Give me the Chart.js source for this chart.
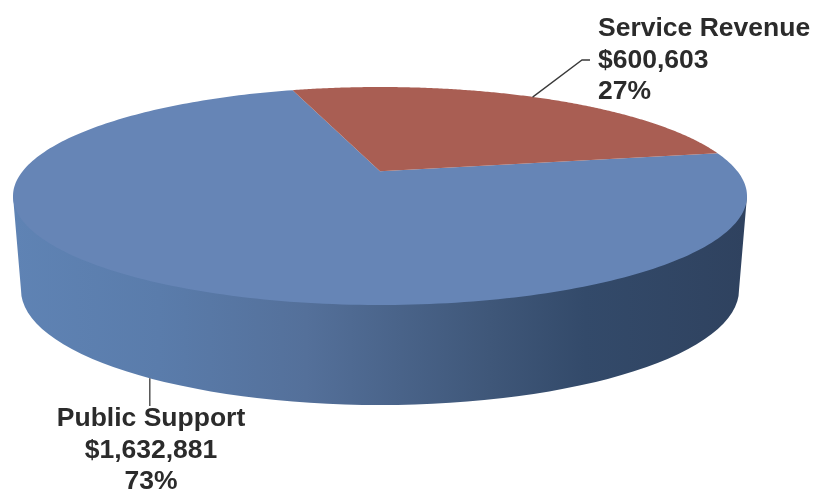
<!DOCTYPE html><html>
<head>
  <meta charset="UTF-8">
  <title>Revenue</title>
  <script src="https://cdn.jsdelivr.net/npm/chart.js"></script>
  <style>
    html, body { margin: 0; padding: 0; background: #fff; }
    canvas { display: block; filter: blur(0.4px); }
  </style>
</head>
<body>
  <canvas id="pie" width="816" height="489"></canvas>
  <script>
    const labels = ['Service Revenue', 'Public Support'];
    const amounts = [600603, 1632881];
    const colors = ['#a95e53', '#6685b6'];

    // tilted disc: the top face is an ellipse, the centre sits above its middle (perspective)
    const cx = 380, cy = 196, rx = 367, ry = 109;
    const persp = -0.227;
    // lower rim of the side wall
    const lowCy = 290, lowRx = 359, lowRy = 115;

    function project(a) {
      const x = Math.cos(a), y = Math.sin(a);
      const d = 1 + persp * y;
      const s = Math.sqrt(1 - persp * persp);
      return { x: cx + rx * x * s / d, y: cy + ry * (y + persp) / d };
    }

    function drawSide(ctx) {
      const g = ctx.createLinearGradient(13, 0, 746, 0);
      g.addColorStop(0, '#5f83b4');
      g.addColorStop(0.2, '#5a7cab');
      g.addColorStop(0.4, '#54709a');
      g.addColorStop(0.65, '#3f5779');
      g.addColorStop(0.78, '#334a6a');
      g.addColorStop(1, '#2f425f');
      // top edge is hidden under the face, so it can run straight across
      ctx.beginPath();
      ctx.moveTo(cx - rx, cy);
      ctx.lineTo(cx + rx, cy);
      ctx.lineTo(cx + lowRx, lowCy);
      ctx.ellipse(cx, lowCy, lowRx, lowRy, 0, 0, Math.PI, false);
      ctx.closePath();
      ctx.fillStyle = g;
      ctx.fill();
    }

    function drawWedge(ctx, start, end, color) {
      ctx.beginPath();
      ctx.moveTo(cx, cy + ry * persp);
      const steps = 240;
      for (let i = 0; i <= steps; i++) {
        const p = project(start + (end - start) * i / steps);
        ctx.lineTo(p.x, p.y);
      }
      ctx.closePath();
      ctx.fillStyle = color;
      ctx.fill();
    }

    function drawText(ctx, idx, x, y, align, pct) {
      ctx.font = 'bold 26.5px "Liberation Sans", Arial, sans-serif';
      ctx.fillStyle = '#2b2b2b';
      ctx.textAlign = align;
      ctx.textBaseline = 'alphabetic';
      ctx.fillText(labels[idx], x, y);
      ctx.fillText('$' + amounts[idx].toLocaleString('en-US'), x, y + 32);
      ctx.fillText(pct + '%', x, y + 63);
    }

    const pie3d = {
      id: 'pie3d',
      beforeDatasetsDraw(chart) {
        const ctx = chart.ctx;
        const arcs = chart.getDatasetMeta(0).data;
        const total = amounts.reduce((a, b) => a + b, 0);
        ctx.save();
        drawSide(ctx);
        // blue first so the red wedge sits on top of the seam
        for (let i = arcs.length - 1; i >= 0; i--) {
          const p = arcs[i].getProps(['startAngle', 'endAngle'], true);
          drawWedge(ctx, p.startAngle, p.endAngle, colors[i]);
        }

        // leader lines start from the middle of each slice
        ctx.strokeStyle = '#3a3a3a';
        ctx.lineWidth = 1.3;
        const a0 = arcs[0].getProps(['startAngle', 'endAngle'], true);
        const m0 = project((a0.startAngle + a0.endAngle) / 2);
        ctx.beginPath();
        ctx.moveTo(m0.x - 2, m0.y);
        ctx.lineTo(582, 60);
        ctx.lineTo(590, 60);
        ctx.stroke();

        const a1 = arcs[1].getProps(['startAngle', 'endAngle'], true);
        const m1 = project((a1.startAngle + a1.endAngle) / 2);
        const lx = m1.x - 1;
        const t = (lx - cx) / lowRx;
        ctx.beginPath();
        ctx.moveTo(lx, lowCy + lowRy * Math.sqrt(1 - t * t));
        ctx.lineTo(lx, 406);
        ctx.stroke();

        drawText(ctx, 0, 598, 36, 'left', Math.round(amounts[0] / total * 100));
        drawText(ctx, 1, 151, 426, 'center', Math.round(amounts[1] / total * 100));
        ctx.restore();
        return false;
      }
    };

    new Chart(document.getElementById('pie'), {
      type: 'pie',
      data: {
        labels: labels,
        datasets: [{ data: amounts, backgroundColor: colors, borderWidth: 0 }]
      },
      options: {
        responsive: false,
        animation: false,
        rotation: -17.3,
        plugins: { legend: { display: false }, tooltip: { enabled: false } }
      },
      plugins: [pie3d]
    });
  </script>
</body>
</html>
